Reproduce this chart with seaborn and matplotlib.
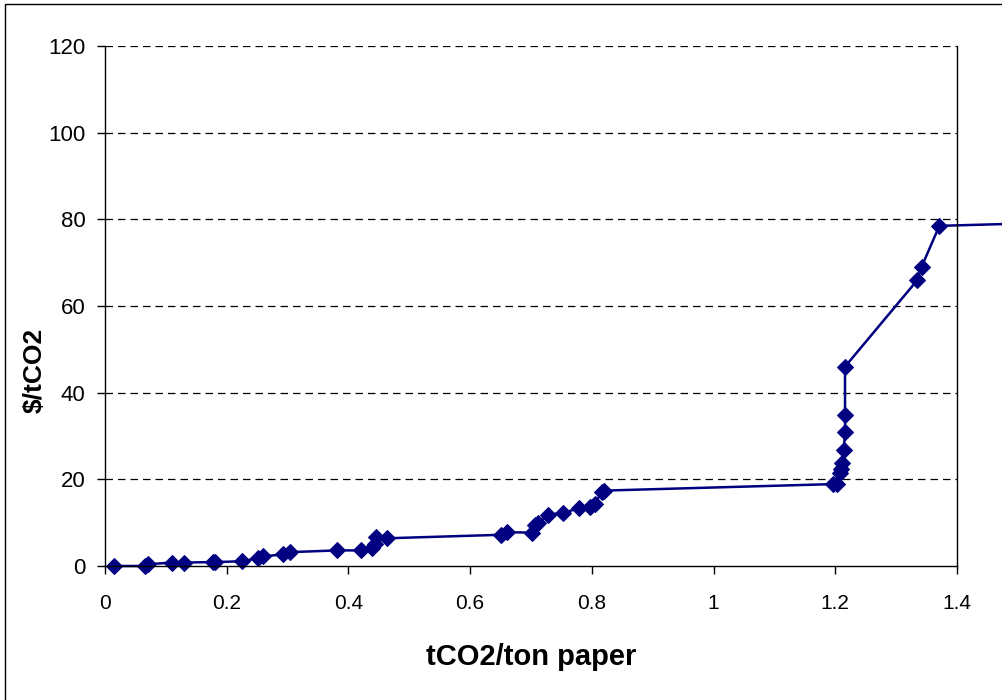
import matplotlib
matplotlib.use("Agg")
import matplotlib.pyplot as plt
import seaborn as sns
import pandas as pd
from matplotlib.patches import Rectangle

# 减排量 vs 边际成本
abatement = [0.014, 0.065, 0.071, 0.110, 0.129, 0.178, 0.181, 0.225, 0.252, 0.260,
             0.293, 0.304, 0.382, 0.420, 0.438, 0.444, 0.446, 0.464, 0.650, 0.661,
             0.701, 0.707, 0.712, 0.728, 0.753, 0.779, 0.797, 0.805, 0.816, 0.820,
             1.197, 1.202, 1.208, 1.209, 1.2105, 1.214, 1.216, 1.216, 1.216, 1.335,
             1.342, 1.371, 1.50]
cost = [0.0, 0.0, 0.4, 0.8, 0.8, 0.9, 0.9, 1.1, 1.8, 2.2,
        2.7, 3.2, 3.6, 3.6, 4.1, 5.1, 6.6, 6.4, 7.2, 7.8,
        7.7, 9.5, 9.9, 11.8, 12.3, 13.3, 13.7, 14.3, 17.1, 17.4,
        18.9, 18.9, 21.4, 22.5, 23.7, 26.8, 31.0, 34.8, 46.0, 66.0,
        69.1, 78.5, 79.0]
x_ticks = [0, 0.2, 0.4, 0.6, 0.8, 1, 1.2, 1.4]
x_ticklabels = ["0", "0.2", "0.4", "0.6", "0.8", "1", "1.2", "1.4"]
y_ticks = [0, 20, 40, 60, 80, 100, 120]

df = pd.DataFrame({"x": abatement, "y": cost})

sns.set_theme(style="white")
plt.rcParams["font.family"] = ["Liberation Sans", "DejaVu Sans"]
plt.rcParams["text.color"] = "black"
plt.rcParams["axes.labelcolor"] = "black"

fig = plt.figure(figsize=(10.02, 7), dpi=100)
ax = fig.add_axes([105 / 1002, 1 - 566 / 700, (957 - 105) / 1002, (566 - 46) / 700])

sns.lineplot(data=df, x="x", y="y", sort=False, estimator=None, ax=ax,
             color="#000080", linewidth=1.8, marker="D", markersize=8,
             markeredgecolor="#000080", markerfacecolor="#000080", clip_on=False)

ax.set_xlim(0, 1.4)
ax.set_ylim(0, 120)
ax.set_xticks(x_ticks)
ax.set_xticklabels(x_ticklabels)
ax.set_yticks(y_ticks)

for v in y_ticks[1:]:
    ax.axhline(v, color="black", linestyle=(0, (6, 4)), linewidth=0.9, zorder=0)

for side in ["left", "bottom", "right"]:
    ax.spines[side].set_visible(True)
    ax.spines[side].set_color("black")
    ax.spines[side].set_linewidth(1.0)
ax.spines["top"].set_visible(False)

ax.tick_params(axis="both", direction="out", length=6, width=1, color="black",
               labelcolor="black", bottom=True, left=True)
ax.tick_params(axis="x", pad=14, labelsize=15)
ax.tick_params(axis="y", pad=8, labelsize=16)

ax.set_xlabel("tCO2/ton paper", fontsize=21, fontweight="bold", color="black")
ax.set_ylabel("$/tCO2", fontsize=19, fontweight="bold", color="black")
ax.xaxis.set_label_coords(0.5, -(657 - 566) / 520)
ax.yaxis.set_label_coords((35 - 105) / 852, (566 - 370) / 520)
ax.xaxis.label.set_va("center")
ax.yaxis.label.set_va("center")

# 外框
fig.patches.append(Rectangle((5 / 1002, -0.1), 1.2, 1 - 4 / 700 + 0.1,
                             transform=fig.transFigure, fill=False,
                             edgecolor="black", linewidth=1.0))

fig.savefig("out.png", dpi=100)
